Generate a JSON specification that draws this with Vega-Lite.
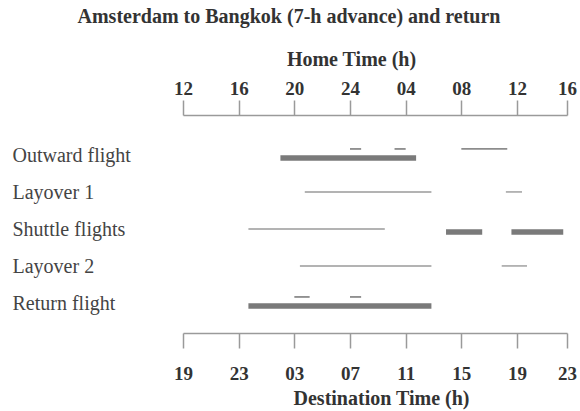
{
  "$schema": "https://vega.github.io/schema/vega-lite/v6.json",
  "width": 384,
  "height": 218,
  "autosize": "none",
  "padding": {"left": 183, "top": 115, "right": 13, "bottom": 78},
  "background": "white",
  "title": {
    "text": "Amsterdam to Bangkok (7-h advance) and return",
    "font": "Liberation Serif",
    "fontSize": 20,
    "fontWeight": "bold",
    "color": "#333333",
    "anchor": "middle",
    "frame": "group",
    "dx": -86,
    "offset": 22
  },
  "config": {"view": {"stroke": null}},
  "data": {
    "values": [
      {"activity": "Outward flight", "kind": "flight", "start": 19.0, "end": 28.75},
      {"activity": "Outward flight", "kind": "sleep", "start": 24.0, "end": 24.8},
      {"activity": "Outward flight", "kind": "sleep", "start": 27.2, "end": 28.0},
      {"activity": "Outward flight", "kind": "sleep", "start": 32.0, "end": 35.3},
      {"activity": "Layover 1", "kind": "ground", "start": 20.75, "end": 29.85},
      {"activity": "Layover 1", "kind": "ground", "start": 35.2, "end": 36.4},
      {"activity": "Shuttle flights", "kind": "ground", "start": 16.7, "end": 26.5},
      {"activity": "Shuttle flights", "kind": "flight", "start": 30.9, "end": 33.5},
      {"activity": "Shuttle flights", "kind": "flight", "start": 35.6, "end": 39.7},
      {"activity": "Layover 2", "kind": "ground", "start": 20.4, "end": 29.85},
      {"activity": "Layover 2", "kind": "ground", "start": 34.9, "end": 36.8},
      {"activity": "Return flight", "kind": "sleep", "start": 20.0, "end": 21.1},
      {"activity": "Return flight", "kind": "sleep", "start": 24.0, "end": 24.8},
      {"activity": "Return flight", "kind": "flight", "start": 16.7, "end": 29.85}
    ]
  },
  "encoding": {
    "y": {
      "field": "activity",
      "type": "nominal",
      "sort": ["Outward flight", "Layover 1", "Shuttle flights", "Layover 2", "Return flight"],
      "scale": {"paddingInner": 0, "paddingOuter": 0.446, "align": 0.68},
      "axis": {
        "title": null,
        "orient": "left",
        "domain": false,
        "ticks": false,
        "tickSize": 0,
        "labelAlign": "left",
        "labelBaseline": "middle",
        "labelPadding": 171,
        "labelFont": "Liberation Serif",
        "labelFontSize": 20,
        "labelColor": "#444444"
      }
    },
    "x2": {"field": "end"}
  },
  "layer": [
    {
      "transform": [{"filter": "datum.kind === 'ground'"}],
      "mark": {"type": "rule", "strokeWidth": 1.4, "color": "#9a9a9a", "yOffset": -1},
      "encoding": {
        "x": {
          "field": "start",
          "type": "quantitative",
          "scale": {"domain": [12, 36, 40], "range": [0, 334, 384], "nice": false, "zero": false},
          "axis": {
            "orient": "top",
            "values": [12, 16, 20, 24, 28, 32, 36, 40],
            "labelExpr": "datum.value <= 24 ? format(datum.value, '02d') : format(datum.value - 24, '02d')",
            "grid": false,
            "domainColor": "#9a9a9a",
            "domainWidth": 1.5,
            "tickColor": "#9a9a9a",
            "tickWidth": 1.5,
            "tickSize": 15,
            "labelPadding": 12,
            "labelBaseline": "middle",
            "labelFont": "Liberation Serif",
            "labelFontWeight": "bold",
            "labelFontSize": 19,
            "labelColor": "#333333",
            "labelFlush": false,
            "labelOverlap": false,
            "title": "Home Time (h)",
            "titleFont": "Liberation Serif",
            "titleFontWeight": "bold",
            "titleFontSize": 20,
            "titleColor": "#333333",
            "titleX": 168,
            "titleY": -56,
            "titleAlign": "center",
            "titleBaseline": "middle"
          }
        }
      }
    },
    {
      "transform": [{"filter": "datum.kind === 'sleep'"}],
      "mark": {"type": "rule", "strokeWidth": 1.8, "color": "#8c8c8c", "yOffset": -7},
      "encoding": {
        "x": {"field": "start", "type": "quantitative", "axis": null}
      }
    },
    {
      "transform": [{"filter": "datum.kind === 'flight'"}],
      "mark": {"type": "rule", "strokeWidth": 5.5, "color": "#7a7a7a", "yOffset": 2},
      "encoding": {
        "x": {
          "field": "start",
          "type": "quantitative",
          "axis": {
            "orient": "bottom",
            "values": [12, 16, 20, 24, 28, 32, 36, 40],
            "labelExpr": "format((datum.value + 7) % 24, '02d')",
            "grid": false,
            "domainColor": "#9a9a9a",
            "domainWidth": 1.5,
            "tickColor": "#9a9a9a",
            "tickWidth": 1.5,
            "tickSize": 15,
            "labelPadding": 25,
            "labelBaseline": "middle",
            "labelFont": "Liberation Serif",
            "labelFontWeight": "bold",
            "labelFontSize": 19,
            "labelColor": "#333333",
            "labelFlush": false,
            "labelOverlap": false,
            "title": "Destination Time (h)",
            "titleFont": "Liberation Serif",
            "titleFontWeight": "bold",
            "titleFontSize": 20,
            "titleColor": "#333333",
            "titleX": 198,
            "titleY": 65,
            "titleAlign": "center",
            "titleBaseline": "middle"
          }
        }
      }
    }
  ],
  "resolve": {"axis": {"x": "independent"}}
}
